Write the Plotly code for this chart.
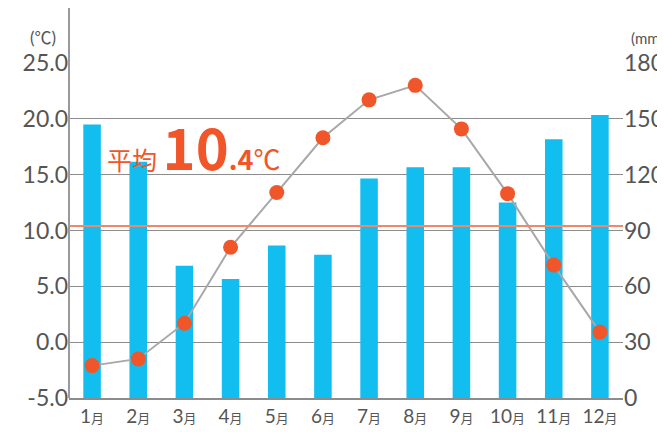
import plotly.graph_objects as go

months = ["1", "2", "3", "4", "5", "6", "7", "8", "9", "10", "11", "12"]
precip_mm = [147, 127, 71, 64, 82, 77, 118, 124, 124, 105, 139, 152]
temp_c = [-2.1, -1.5, 1.7, 8.5, 13.4, 18.3, 21.7, 23.0, 19.1, 13.3, 6.9, 0.9]
avg_temp = 10.4
temp_ticks = [-5, 0, 5, 10, 15, 20, 25]
temp_ticktext = ["-5.0", "0.0", "5.0", "10.0", "15.0", "20.0", "25.0"]
precip_ticks = [0, 30, 60, 90, 120, 150, 180]

FONT = "Lato, Noto Sans CJK JP, sans-serif"
GRID = "#8c8c8c"
TXT = "#555555"
ORANGE = "#F0562A"

xlabels = [f"{m}<span style='font-size:13px'>月</span>" for m in months]

fig = go.Figure()
fig.add_trace(go.Bar(
    x=months, y=precip_mm, yaxis="y",
    marker=dict(color="#12BDF0", line=dict(width=0)),
    width=0.38, hoverinfo="skip",
))
fig.add_trace(go.Scatter(
    x=months, y=temp_c, yaxis="y2", mode="lines+markers",
    line=dict(color="#A8A8A8", width=2),
    marker=dict(color=ORANGE, size=15, line=dict(width=0)),
    hoverinfo="skip",
))

fig.add_shape(type="line", xref="paper", yref="y2", x0=0, x1=1,
              y0=avg_temp, y1=avg_temp,
              line=dict(color="#F2876A", width=2), layer="above")
# left axis line extending above the plot
fig.add_shape(type="line", xref="paper", yref="paper", x0=0, x1=0,
              y0=0, y1=1.165, line=dict(color="#9a9a9a", width=2))

fig.add_annotation(
    xref="paper", yref="paper", x=0.065, y=0.628, xanchor="left", yanchor="bottom",
    text="<span style='font-size:25px'>平均 </span><b><span style='font-size:56px'>10</span></b><b><span style='font-size:27px'>.4</span></b><span style='font-size:27px'>℃</span>",
    showarrow=False, font=dict(family="Noto Sans CJK JP, sans-serif", color=ORANGE, size=25),
)
fig.add_annotation(xref="paper", yref="paper", x=-0.019, y=1.075, xanchor="right",
                   yanchor="middle", text="(℃)", showarrow=False,
                   font=dict(family=FONT, color=TXT, size=17))
fig.add_annotation(xref="paper", yref="paper", x=1.0755, y=1.075, xanchor="right",
                   yanchor="middle", text="(mm)", showarrow=False,
                   font=dict(family=FONT, color=TXT, size=15))

fig.update_layout(
    width=657, height=424,
    margin=dict(l=61, r=42, t=55, b=34, autoexpand=False),
    paper_bgcolor="white", plot_bgcolor="white",
    showlegend=False,
    font=dict(family=FONT, color=TXT),
    xaxis=dict(
        type="category", tickvals=months, ticktext=xlabels, automargin=False,
        range=[-0.5, 11.5],
        tickfont=dict(size=19, color=TXT), showgrid=False,
        showline=True, linecolor="#8c8c8c", linewidth=2, ticks="",
    ),
    yaxis=dict(
        side="right", range=[0, 180], tickvals=precip_ticks, automargin=False,
        tickfont=dict(size=23, color=TXT), showgrid=True, gridcolor=GRID,
        gridwidth=1, zeroline=False, showline=False, ticks="",
    ),
    yaxis2=dict(
        side="left", overlaying="y", range=[-5, 25], tickvals=temp_ticks,
        ticktext=temp_ticktext, automargin=False,
        tickfont=dict(size=23, color=TXT), showgrid=False,
        zeroline=False, showline=False, ticks="",
    ),
)

fig.write_html("out.html")
